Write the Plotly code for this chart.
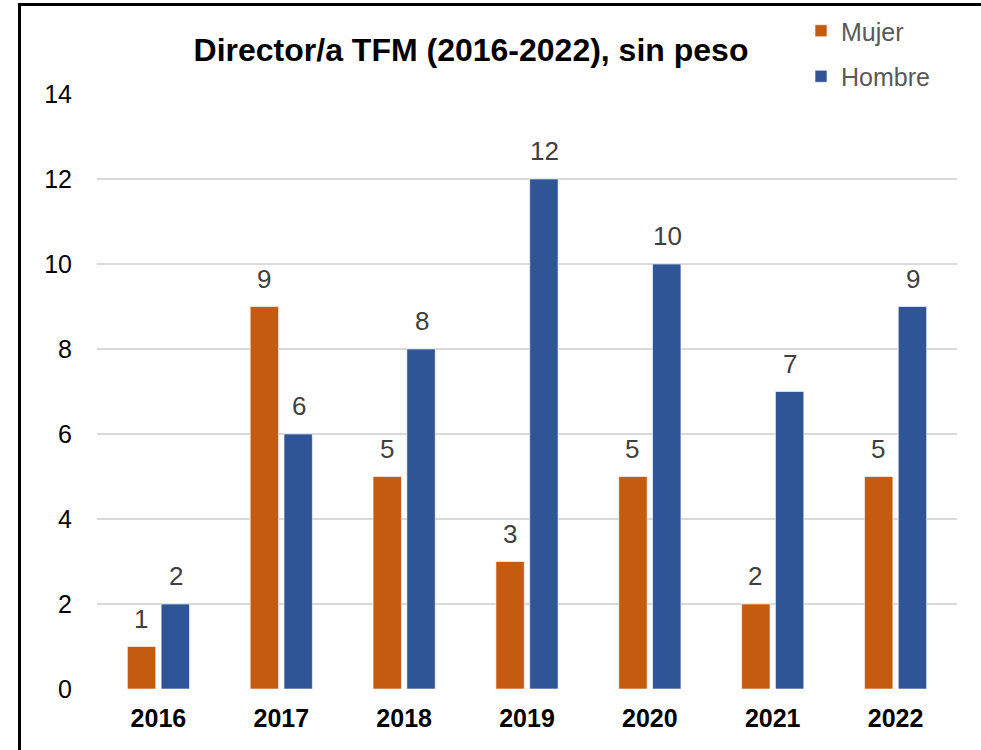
import plotly.graph_objects as go

# Data
years = ["2016", "2017", "2018", "2019", "2020", "2021", "2022"]
mujer = [1, 9, 5, 3, 5, 2, 5]
hombre = [2, 6, 8, 12, 10, 7, 9]
y_ticks = [0, 2, 4, 6, 8, 10, 12, 14]

C_MUJER = "#C55A11"
C_HOMBRE = "#2F5597"
FONT = "Liberation Sans, Arial, sans-serif"

W, H = 981, 750
L, R, T, B = 97, 24, 94, 61
pw, ph = W - L - R, H - T - B


def px_x(px):
    return (px - L) / pw


def px_y(py):
    return (H - B - py) / ph


fig = go.Figure()
fig.add_trace(go.Bar(
    x=years, y=mujer, name="Mujer", legendgroup="m",
    marker=dict(color=C_MUJER, line=dict(color="rgba(255,255,255,0.6)", width=1)),
))
fig.add_trace(go.Bar(
    x=years, y=hombre, name="Hombre", legendgroup="h",
    marker=dict(color=C_HOMBRE, line=dict(color="rgba(255,255,255,0.6)", width=1)),
))

# Value labels above each bar (x given as category index)
annotations = []
for series, shift in ((mujer, -17.5), (hombre, 17.5)):
    for i, v in enumerate(series):
        annotations.append(dict(
            x=i, y=v, xref="x", yref="y", text=str(v), showarrow=False,
            xshift=shift, yshift=28, yanchor="middle",
            font=dict(family=FONT, size=26, color="#404040"),
        ))

fig.update_layout(
    width=W, height=H,
    margin=dict(l=L, r=R, t=T, b=B, autoexpand=False),
    paper_bgcolor="white", plot_bgcolor="white",
    barmode="group", bargap=0.45, bargroupgap=0.16,
    title=dict(
        text="<b>Director/a TFM (2016-2022), sin peso</b>",
        x=px_x(471), xref="paper", xanchor="center",
        y=1 - 50 / H, yref="container", yanchor="middle",
        font=dict(family=FONT, size=32, color="#000000"),
    ),
    legend=dict(
        x=px_x(801), y=px_y(8), xref="paper", yref="paper",
        xanchor="left", yanchor="top",
        traceorder="grouped", tracegroupgap=10,
        font=dict(family=FONT, size=25, color="#595959"),
        bgcolor="rgba(0,0,0,0)",
    ),
    xaxis=dict(
        type="category", range=[-0.5, len(years) - 0.5],
        showgrid=False, zeroline=False, showline=False, ticks="",
        tickfont=dict(family=FONT, size=25, color="#000000", weight="bold"),
        ticklabelstandoff=12,
    ),
    yaxis=dict(
        range=[0, 14], tickvals=y_ticks, showgrid=True,
        gridcolor="#D9D9D9", gridwidth=1.5, zeroline=False,
        showline=False, ticks="",
        tickfont=dict(family=FONT, size=25, color="#000000"),
        ticklabelstandoff=24,
    ),
    annotations=annotations,
    shapes=[
        # Outer frame of the chart
        dict(type="rect", xref="paper", yref="paper",
             x0=px_x(19.5), x1=px_x(W + 20), y0=px_y(H + 20), y1=px_y(4.5),
             line=dict(color="#000000", width=3), fillcolor="rgba(0,0,0,0)",
             layer="above"),
    ],
)

fig.write_html("out.html")
